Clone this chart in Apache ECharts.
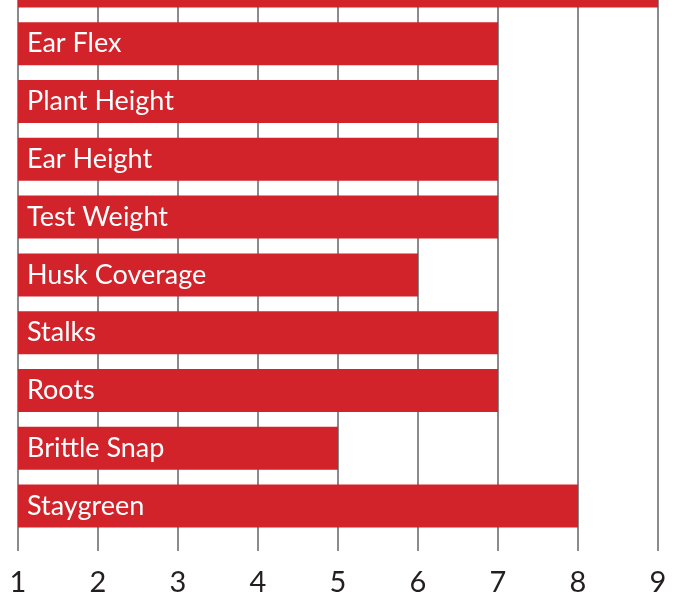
<!DOCTYPE html>
<html>
<head>
<meta charset="utf-8">
<script src="https://cdn.jsdelivr.net/npm/echarts@6/dist/echarts.min.js"></script>
<style>
  html, body { margin: 0; padding: 0; background: #fff; overflow: hidden; }
  #chart { width: 679px; height: 640px; margin-top: -43px; }
</style>
</head>
<body>
<div id="chart"></div>
<script>
// top row is cut off in the picture, its name can't be read
const traits = ['', 'Ear Flex', 'Plant Height', 'Ear Height', 'Test Weight', 'Husk Coverage', 'Stalks', 'Roots', 'Brittle Snap', 'Staygreen'];
const scores = [9.05, 7, 7, 7, 7, 6, 7, 7, 5, 8];
const ticks = [1, 2, 3, 4, 5, 6, 7, 8, 9];

const gridGrey = '#8b8b8e';

const option = {
  animation: false,
  grid: {
    left: 18,
    right: 21,
    top: 0,
    bottom: 60,
    containLabel: false
  },
  xAxis: {
    type: 'value',
    position: 'bottom',
    min: ticks[0],
    max: ticks[ticks.length - 1],
    interval: 1,
    axisLine: { show: false },
    axisTick: {
      show: true,
      length: 16,
      lineStyle: { color: gridGrey, width: 2 }
    },
    splitLine: {
      show: true,
      lineStyle: { color: gridGrey, width: 2 }
    },
    axisLabel: {
      margin: 33,
      fontFamily: 'Lato',
      fontSize: 29,
      color: '#231f20'
    }
  },
  yAxis: {
    type: 'category',
    inverse: true,
    data: traits,
    axisLine: { show: false },
    axisTick: { show: false },
    axisLabel: { show: false },
    splitLine: { show: false }
  },
  series: [
    {
      type: 'bar',
      data: scores,
      barWidth: 43,
      clip: true,
      itemStyle: { color: '#d2232a' },
      label: {
        show: true,
        position: 'insideLeft',
        distance: 9,
        formatter: (p) => p.name,
        fontFamily: 'Lato',
        fontSize: 27,
        color: '#fff'
      }
    }
  ]
};

const myChart = echarts.init(document.getElementById('chart'));
myChart.setOption(option);
</script>
</body>
</html>
